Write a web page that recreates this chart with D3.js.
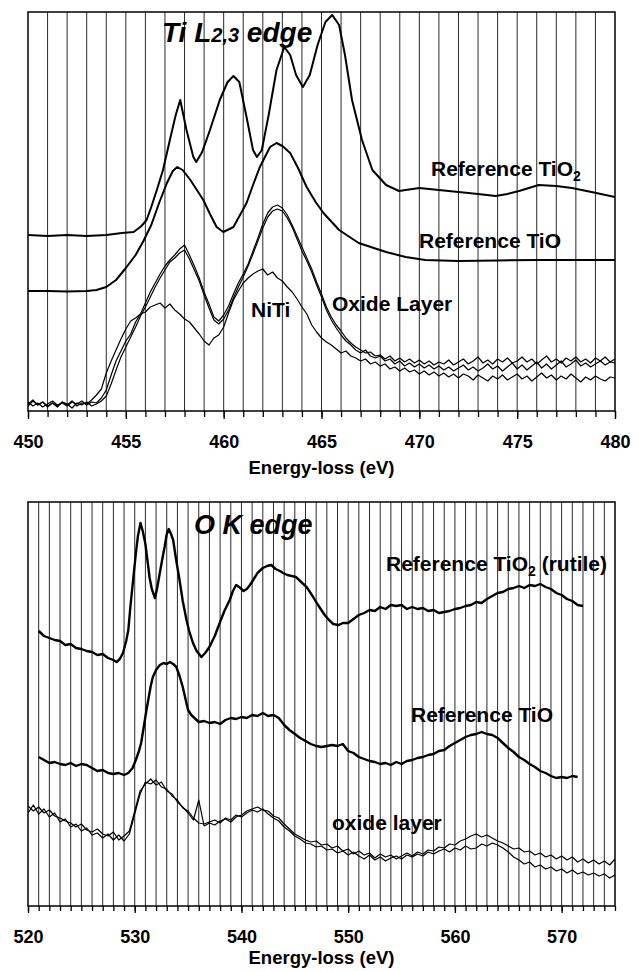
<!DOCTYPE html>
<html lang="en">
<head>
    <meta charset="UTF-8">
    <title>Ti L2,3 and O K edges</title>
    <script src="https://cdn.jsdelivr.net/npm/d3@7"></script>
    <style>
        body { margin: 0; background: #fff; }
        svg text { font-family: "Liberation Sans", Arial, sans-serif; font-weight: bold; fill: #000; }
    </style>
</head>
<body>
<script>
    //----- data, top panel (Ti L2,3 edge) -----
    // noisy spectra sampled every 0.25 eV from 450 to 480
    let tiEnergy = d3.range(0, 121).map(i => 450 + i * 0.25);

    let tiOxideA = [
        9, 5, 8, 4, 7, 10, 6, 8, 5, 9, 7, 10, 6, 9, 8, 13,
        21, 36, 50, 60, 70, 77, 89, 97, 108, 119, 128, 137, 145, 151, 156, 162,
        166, 156, 145, 133, 119, 107, 94, 90, 96, 105, 117, 128, 137, 147, 160, 173,
        187, 198, 204, 206, 203, 196, 186, 175, 164, 153, 142, 129, 117, 104, 94, 86,
        80, 73, 68, 64, 61, 58, 59, 55, 56, 52, 55, 50, 53, 49, 52, 48,
        51, 47, 50, 46, 49, 47, 51, 46, 49, 52, 47, 50, 54, 48, 51, 47,
        52, 49, 53, 48, 50, 54, 49, 52, 47, 51, 55, 49, 52, 48, 53, 50,
        54, 49, 52, 48, 53, 50, 54, 49, 52
    ];

    let tiOxideB = [
        5, 10, 6, 9, 4, 8, 5, 9, 7, 3, 8, 6, 9, 5, 7, 10,
        15, 27, 41, 54, 64, 74, 84, 95, 104, 114, 124, 133, 141, 149, 153, 158,
        161, 152, 141, 130, 116, 103, 91, 87, 92, 101, 113, 124, 134, 145, 157, 170,
        183, 194, 200, 202, 200, 193, 184, 172, 160, 150, 139, 126, 114, 101, 91, 83,
        76, 70, 66, 61, 58, 61, 55, 53, 55, 50, 52, 47, 50, 45, 48, 44,
        47, 43, 46, 42, 45, 41, 44, 40, 43, 46, 41, 44, 40, 43, 47, 42,
        45, 40, 44, 48, 42, 46, 41, 45, 49, 43, 47, 42, 46, 50, 44, 47,
        51, 45, 48, 44, 47, 50, 46, 49, 48
    ];

    let tiNiTi = [
        7, 11, 6, 9, 5, 8, 4, 9, 6, 10, 5, 8, 7, 11, 16, 22,
        38, 50, 61, 72, 82, 90, 93, 97, 99, 104, 106, 108, 103, 107, 101, 97,
        92, 89, 83, 77, 70, 66, 73, 76, 84, 98, 111, 120, 128, 133, 137, 140,
        142, 136, 139, 133, 130, 124, 119, 112, 104, 97, 86, 79, 73, 69, 66, 62,
        58, 60, 55, 53, 50, 52, 47, 49, 45, 47, 42, 44, 40, 43, 39, 41,
        37, 40, 36, 39, 35, 38, 34, 37, 33, 37, 35, 31, 36, 33, 30, 35,
        32, 36, 31, 34, 37, 32, 35, 30, 34, 38, 33, 36, 31, 35, 32, 37,
        33, 29, 34, 31, 35, 32, 30, 34, 33
    ];

    // reference spectra as [energy, intensity]
    let tiRefTiO2 = [
        [450, 176], [451, 175], [452, 176], [453, 175], [454, 176], [454.8, 178], [455.4, 179],
        [455.8, 185], [456.06, 191], [456.3, 204], [456.6, 222], [456.9, 241], [457.25, 271],
        [457.55, 296], [457.78, 311], [458.1, 281], [458.45, 254], [458.6, 249], [458.9, 259],
        [459.3, 281], [459.8, 311], [460.2, 329], [460.5, 335], [460.8, 329], [461.2, 291],
        [461.5, 261], [461.7, 254], [461.95, 261], [462.3, 296], [462.7, 341], [463.1, 364],
        [463.4, 356], [463.7, 336], [464.05, 324], [464.4, 336], [464.8, 366], [465.2, 389],
        [465.55, 396], [465.9, 386], [466.2, 356], [466.56, 311], [467.07, 271], [467.6, 241],
        [468.3, 226], [468.96, 220], [470, 223], [471, 221], [472, 219], [473, 217], [473.9, 215],
        [474.5, 217], [475.1, 220], [476.1, 226], [477, 225], [477.8, 223], [478.8, 219], [480, 214]
    ];

    let tiRefTiO = [
        [450, 120], [451, 120], [452, 119.5], [453, 120], [453.5, 121], [454, 124], [454.5, 131],
        [455, 143], [455.5, 156], [455.9, 170], [456.3, 186], [456.7, 208], [457.1, 228],
        [457.4, 240], [457.63, 244], [457.9, 241], [458.3, 231], [458.96, 211], [459.3, 197],
        [459.64, 184], [459.98, 179], [460.3, 182], [460.5, 184], [461.17, 208], [461.5, 226],
        [461.85, 244], [462.37, 264], [462.7, 268], [463, 265], [463.4, 258], [463.8, 243],
        [464.24, 224], [464.7, 209], [465.1, 198], [465.9, 181], [466.9, 168], [468.3, 159],
        [469.3, 154], [470.3, 151], [472, 150], [474, 150.5], [476, 151], [478, 151], [480, 151]
    ];

    let tiTicks = [450, 455, 460, 465, 470, 475, 480];

    //----- data, bottom panel (O K edge) -----
    // noisy spectra sampled every 0.5 eV from 520 to 575
    let oEnergy = d3.range(0, 111).map(i => 520 + i * 0.5);

    let oOxideA = [
        100, 95, 99, 93, 96, 90, 88, 85, 83, 79,
        82, 76, 74, 77, 72, 70, 74, 66, 70, 75,
        95, 115, 122, 127, 121, 124, 115, 112, 104, 99,
        93, 86, 106, 80, 83, 81, 85, 87, 84, 89,
        91, 95, 97, 99, 96, 95, 90, 88, 82, 77,
        72, 69, 66, 64, 65, 61, 62, 58, 60, 55,
        57, 52, 55, 51, 53, 48, 52, 49, 51, 47,
        50, 53, 50, 54, 52, 56, 55, 59, 58, 62,
        61, 65, 67, 70, 72, 69, 71, 68, 65, 63,
        60, 57, 58, 54, 55, 51, 53, 49, 51, 47,
        50, 46, 49, 44, 47, 43, 46, 42, 45, 41,
        47
    ];

    let oOxideB = [
        93, 101, 92, 97, 89, 93, 84, 87, 79, 82,
        75, 78, 71, 73, 68, 72, 66, 71, 65, 72,
        92, 112, 124, 122, 126, 119, 117, 110, 106, 98,
        95, 88, 83, 82, 84, 86, 83, 88, 86, 91,
        89, 93, 96, 94, 97, 92, 88, 85, 79, 75,
        70, 67, 63, 62, 59, 60, 56, 57, 53, 55,
        51, 54, 50, 47, 51, 46, 49, 45, 48, 50,
        47, 51, 49, 52, 50, 54, 52, 55, 57, 54,
        58, 56, 60, 57, 58, 62, 60, 63, 61, 58,
        54, 49, 46, 42, 44, 39, 41, 37, 39, 35,
        37, 33, 36, 32, 34, 31, 33, 30, 32, 28,
        31
    ];

    let oRefTiO2 = [
        [521, 275], [521.5, 270], [522, 268], [522.5, 266], [523, 265], [523.5, 261], [524, 262],
        [524.5, 258], [525, 257], [525.5, 255], [526, 254], [526.5, 251], [527, 252], [527.5, 248],
        [528, 246], [528.3, 244], [528.6, 247], [528.9, 253], [529.2, 265], [529.4, 276], [529.6, 300],
        [529.85, 326], [530.1, 352], [530.3, 370], [530.54, 383], [530.75, 375], [531, 362],
        [531.2, 345], [531.4, 328], [531.6, 317], [531.9, 308], [532.1, 318], [532.35, 333],
        [532.6, 348], [532.8, 359], [533, 372], [533.19, 377], [533.4, 372], [533.6, 366],
        [533.9, 345], [534.2, 326], [534.5, 305], [534.85, 286], [535.1, 275], [535.46, 263],
        [535.8, 255], [536.25, 249], [536.6, 253], [537, 259], [537.5, 270], [537.96, 283],
        [538.4, 295], [538.9, 306], [539.2, 315], [539.5, 321], [539.9, 318], [540.2, 315],
        [540.5, 317], [540.8, 321], [541.1, 326], [541.5, 333], [542, 338], [542.4, 340],
        [542.8, 341], [543.2, 337], [543.6, 335], [543.9, 333], [544.3, 331], [544.7, 330],
        [545.1, 329], [545.6, 324], [546.1, 319], [546.6, 311], [547, 304], [547.3, 299],
        [547.8, 291], [548.2, 286], [548.6, 282], [549.1, 281], [549.5, 283], [550, 283],
        [550.5, 287], [551, 291], [551.5, 293], [552, 296], [552.5, 295], [553, 299], [553.5, 297],
        [554, 301], [554.5, 300], [555, 301], [555.5, 297], [556, 299], [556.5, 297], [557, 298],
        [557.5, 295], [558, 296], [558.5, 293], [559, 294], [559.5, 295], [560, 297], [560.5, 298],
        [561, 300], [561.5, 301], [562, 304], [562.5, 303], [563, 307], [563.5, 310], [564, 313],
        [564.5, 314], [565, 317], [565.5, 318], [566, 320], [566.5, 318], [567, 321], [567.5, 320],
        [568, 322], [568.5, 319], [569, 317], [569.5, 313], [570, 311], [570.5, 307], [571, 305],
        [571.5, 301], [572, 300]
    ];

    let oRefTiO = [
        [521, 149], [521.5, 146], [522, 143], [522.5, 144], [523, 142], [523.5, 141], [524, 143],
        [524.5, 140], [525, 142], [525.5, 141], [526, 138], [526.5, 135], [527, 136], [527.5, 133],
        [528, 132], [528.5, 133], [529, 131], [529.4, 133], [529.8, 138], [530.1, 146], [530.4, 155],
        [530.6, 163], [530.8, 176], [530.95, 186], [531.1, 196], [531.3, 208], [531.5, 220],
        [531.7, 229], [532, 236], [532.35, 241], [532.7, 243], [533, 242], [533.3, 244], [533.6, 242],
        [533.9, 239], [534.2, 230], [534.5, 219], [534.8, 205], [535, 196], [535.3, 191], [535.6, 188],
        [536, 184], [536.5, 185], [537, 183], [537.5, 184], [538, 182], [538.5, 186], [539, 188],
        [539.5, 187], [540, 189], [540.5, 188], [541, 191], [541.5, 190], [542, 193], [542.5, 190],
        [543, 191], [543.5, 188], [544, 181], [544.5, 176], [545, 172], [545.5, 168], [546, 165],
        [546.5, 162], [547, 160], [547.5, 159], [548, 160], [548.5, 161], [549, 160], [549.5, 162],
        [550, 155], [550.5, 153], [551, 149], [551.5, 147], [552, 145], [552.5, 144], [553, 142],
        [553.5, 143], [554, 141], [554.5, 144], [555, 142], [555.5, 145], [556, 146], [556.5, 148],
        [557, 149], [557.5, 151], [558, 152], [558.5, 155], [559, 156], [559.5, 160], [560, 163],
        [560.5, 166], [561, 169], [561.5, 171], [562, 172], [562.5, 174], [563, 172], [563.5, 171],
        [564, 168], [564.5, 163], [565, 158], [565.5, 154], [566, 149], [566.5, 146], [567, 142],
        [567.5, 139], [568, 135], [568.5, 133], [569, 130], [569.5, 128], [570, 129], [570.5, 128],
        [571, 130], [571.5, 129]
    ];

    let oTicks = [520, 530, 540, 550, 560, 570];

    //----- drawing -----
    let width = 639;
    let height = 971;

    let svg = d3.select('body')
        .append('svg')
        .attr('width', width)
        .attr('height', height);

    svg.append('rect').attr('width', width).attr('height', height).attr('fill', '#fff');

    // one panel: frame, 1 eV gridlines, ticks, labels and axis title
    function drawPanel(opt) {
        let x = d3.scaleLinear().domain(opt.xDomain).range([opt.left, opt.right]);
        let y = d3.scaleLinear().domain(opt.yDomain).range([opt.bottom, opt.top]);
        let g = svg.append('g');

        let minor = d3.range(opt.xDomain[0], opt.xDomain[1] + 1);

        g.selectAll('line.grid')
            .data(minor.slice(1, -1))
            .join('line')
            .attr('class', 'grid')
            .attr('x1', d => x(d)).attr('x2', d => x(d))
            .attr('y1', opt.top).attr('y2', opt.bottom)
            .attr('stroke', '#2a2a2a')
            .attr('stroke-width', 1);

        let axis = d3.axisBottom(x)
            .tickValues(minor)
            .tickSize(opt.minorTick)
            .tickFormat('');
        g.append('g')
            .attr('transform', `translate(0,${opt.bottom})`)
            .call(axis)
            .call(a => a.select('.domain').remove())
            .call(a => a.selectAll('line').attr('stroke', '#000').attr('stroke-width', 1.3));

        let major = d3.axisBottom(x)
            .tickValues(opt.ticks)
            .tickSize(opt.majorTick)
            .tickPadding(opt.pad)
            .tickFormat(d3.format('d'));
        g.append('g')
            .attr('transform', `translate(0,${opt.bottom})`)
            .call(major)
            .call(a => a.select('.domain').remove())
            .call(a => a.selectAll('line').attr('stroke', '#000').attr('stroke-width', 1.3))
            .call(a => a.selectAll('text')
                .attr('font-family', '"Liberation Sans", Arial, sans-serif')
                .attr('font-weight', 'bold')
                .attr('font-size', 18)
                .attr('fill', '#000'));

        g.append('text')
            .attr('x', (opt.left + opt.right) / 2)
            .attr('y', opt.titleY)
            .attr('text-anchor', 'middle')
            .attr('font-size', 18.5)
            .text('Energy-loss (eV)');

        // plot frame
        g.append('rect')
            .attr('x', opt.left).attr('y', opt.top)
            .attr('width', opt.right - opt.left)
            .attr('height', opt.bottom - opt.top)
            .attr('fill', 'none')
            .attr('stroke', '#000')
            .attr('stroke-width', 1.5);

        let clipId = 'clip' + opt.xDomain[0];
        svg.append('clipPath').attr('id', clipId)
            .append('rect')
            .attr('x', opt.left).attr('y', opt.top)
            .attr('width', opt.right - opt.left)
            .attr('height', opt.bottom - opt.top);

        let lines = svg.append('g').attr('clip-path', `url(#${clipId})`);
        let line = d3.line().x(d => x(d[0])).y(d => y(d[1]));

        opt.series.forEach(s => {
            lines.append('path')
                .datum(s.points)
                .attr('d', line)
                .attr('fill', 'none')
                .attr('stroke', '#000')
                .attr('stroke-width', s.width)
                .attr('stroke-linejoin', 'round');
        });

        return g;
    }

    let zip = (xs, ys) => xs.map((e, i) => [e, ys[i]]);

    drawPanel({
        xDomain: [450, 480], yDomain: [0, 399],
        left: 28, right: 615, top: 12, bottom: 411,
        ticks: tiTicks, minorTick: 6, majorTick: 8, pad: 16, titleY: 474,
        series: [
            { points: tiRefTiO2, width: 2 },
            { points: tiRefTiO, width: 2 },
            { points: zip(tiEnergy, tiNiTi), width: 1.2 },
            { points: zip(tiEnergy, tiOxideB), width: 1.2 },
            { points: zip(tiEnergy, tiOxideA), width: 1.2 }
        ]
    });

    drawPanel({
        xDomain: [520, 575], yDomain: [0, 404],
        left: 28, right: 615, top: 502, bottom: 906,
        ticks: oTicks, minorTick: 5, majorTick: 7, pad: 17, titleY: 964,
        series: [
            { points: oRefTiO2, width: 2.4 },
            { points: oRefTiO, width: 2.4 },
            { points: zip(oEnergy, oOxideB), width: 1.2 },
            { points: zip(oEnergy, oOxideA), width: 1.2 }
        ]
    });

    //----- labels -----
    let tiTitle = svg.append('text')
        .attr('x', 162).attr('y', 42)
        .attr('font-size', 28)
        .attr('font-style', 'italic');
    tiTitle.append('tspan').text('Ti L');
    tiTitle.append('tspan').attr('font-size', 20).text('2,3');
    tiTitle.append('tspan').text(' edge');

    let refTop = svg.append('text').attr('x', 431).attr('y', 176).attr('font-size', 21);
    refTop.append('tspan').text('Reference TiO');
    refTop.append('tspan').attr('font-size', 14).attr('dy', 5).text('2');

    svg.append('text').attr('x', 419).attr('y', 248).attr('font-size', 21).text('Reference TiO');
    svg.append('text').attr('x', 332).attr('y', 311).attr('font-size', 21).text('Oxide Layer');
    svg.append('text').attr('x', 251).attr('y', 317).attr('font-size', 21).text('NiTi');

    svg.append('text')
        .attr('x', 194).attr('y', 534)
        .attr('font-size', 27)
        .attr('font-style', 'italic')
        .text('O K edge');

    let refBot = svg.append('text').attr('x', 386).attr('y', 571).attr('font-size', 21);
    refBot.append('tspan').text('Reference TiO');
    refBot.append('tspan').attr('font-size', 14).attr('dy', 5).text('2');
    refBot.append('tspan').attr('dy', -5).text(' (rutile)');

    svg.append('text').attr('x', 411).attr('y', 722).attr('font-size', 21).text('Reference TiO');
    svg.append('text').attr('x', 332).attr('y', 830).attr('font-size', 21).text('oxide layer');
</script>
</body>
</html>
